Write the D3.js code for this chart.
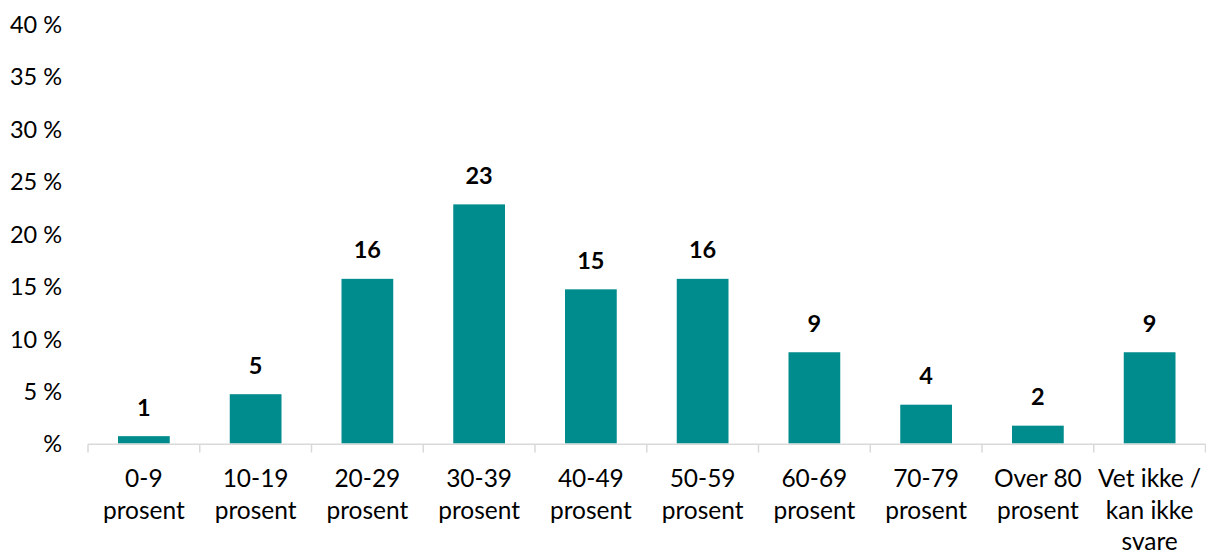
<!DOCTYPE html>
<html>
<head>
<meta charset="utf-8">
<script src="https://cdn.jsdelivr.net/npm/d3@7"></script>
<style>
  html, body { margin: 0; padding: 0; background: #fff; }
  svg { display: block; }
  text { font-family: Lato, "Open Sans", sans-serif; fill: #000; }
</style>
</head>
<body>
<svg id="chart" width="1206" height="554"></svg>
<script>
const categories = [
  ["0-9", "prosent"],
  ["10-19", "prosent"],
  ["20-29", "prosent"],
  ["30-39", "prosent"],
  ["40-49", "prosent"],
  ["50-59", "prosent"],
  ["60-69", "prosent"],
  ["70-79", "prosent"],
  ["Over 80", "prosent"],
  ["Vet ikke /", "kan ikke", "svare"]
];
const values = [0.7, 4.7, 15.7, 22.8, 14.7, 15.7, 8.7, 3.7, 1.7, 8.7];
const valueLabels = ["1", "5", "16", "23", "15", "16", "9", "4", "2", "9"];
const yTicks = [0, 5, 10, 15, 20, 25, 30, 35, 40];
const yTickLabels = ["%", "5 %", "10 %", "15 %", "20 %", "25 %", "30 %", "35 %", "40 %"];

const svg = d3.select("#chart");
const plotLeft = 88, plotRight = 1205.5, plotTop = 24, plotBottom = 443.5;
const fontSize = 23.5;
const catFontSize = 24.5;

const x = d3.scaleBand()
  .domain(d3.range(categories.length))
  .range([plotLeft, plotRight])
  .paddingInner(0.537)
  .paddingOuter(0.2685);

const y = d3.scaleLinear().domain([0, 40]).range([plotBottom, plotTop]);

// y labels (no axis line, no gridlines)
const yAxis = d3.axisLeft(y)
  .tickValues(yTicks)
  .tickSize(0)
  .tickPadding(0)
  .tickFormat((d, i) => yTickLabels[i]);
const yg = svg.append("g").attr("transform", "translate(62,0)").call(yAxis);
yg.select(".domain").remove();
yg.selectAll("text")
  .style("font-family", "Lato, 'Open Sans', sans-serif")
  .style("font-size", fontSize + "px")
  .attr("fill", "#000")
  .attr("dy", "0.36em");

// bars
svg.append("g").selectAll("rect")
  .data(values)
  .join("rect")
  .attr("x", (d, i) => x(i))
  .attr("width", x.bandwidth())
  .attr("y", d => y(d))
  .attr("height", d => y(0) - y(d))
  .attr("fill", "#008b8c");

// x axis line and ticks at band boundaries
const step = x.step();
const boundaries = d3.range(categories.length + 1).map(i => plotLeft + i * step);
svg.append("line")
  .attr("x1", plotLeft).attr("x2", plotRight)
  .attr("y1", y(0) + 0.75).attr("y2", y(0) + 0.75)
  .attr("stroke", "#d9d9d9").attr("stroke-width", 1.5);
svg.append("g").selectAll("line")
  .data(boundaries)
  .join("line")
  .attr("x1", d => d).attr("x2", d => d)
  .attr("y1", y(0) + 0.75).attr("y2", y(0) + 9)
  .attr("stroke", "#d9d9d9").attr("stroke-width", 1.5);

// value labels
svg.append("g").selectAll("text")
  .data(values)
  .join("text")
  .attr("x", (d, i) => x(i) + x.bandwidth() / 2)
  .attr("y", d => y(d) - 20.5)
  .attr("text-anchor", "middle")
  .style("font-size", fontSize + "px")
  .style("font-weight", "bold")
  .text((d, i) => valueLabels[i]);

// category labels
const cg = svg.append("g").selectAll("text")
  .data(categories)
  .join("text")
  .attr("x", (d, i) => x(i) + x.bandwidth() / 2)
  .attr("y", 487)
  .attr("text-anchor", "middle")
  .style("font-size", catFontSize + "px");
cg.selectAll("tspan")
  .data(d => d)
  .join("tspan")
  .attr("x", function() { return d3.select(this.parentNode).attr("x"); })
  .attr("dy", (d, i) => i === 0 ? 0 : 31.5)
  .text(d => d);
</script>
</body>
</html>
